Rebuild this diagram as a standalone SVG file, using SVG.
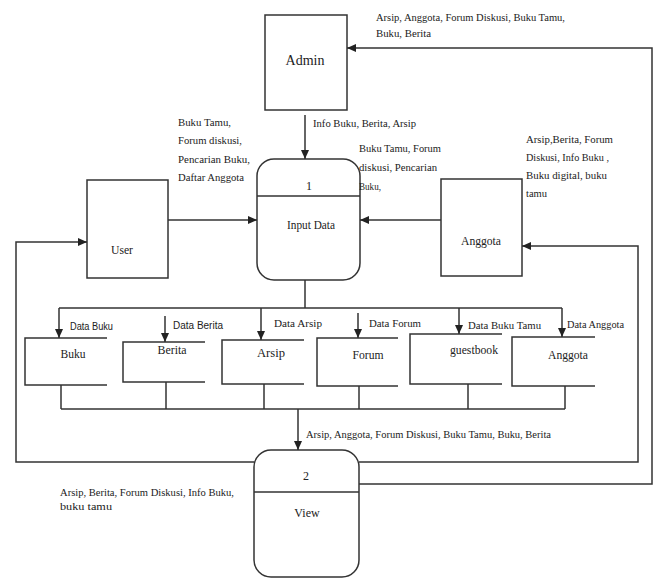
<svg xmlns="http://www.w3.org/2000/svg" width="660" height="579" viewBox="0 0 660 579">
<style>
.box{fill:#fff;stroke:#333;stroke-width:1.5}
.ln{fill:none;stroke:#333;stroke-width:1.5}
.arr{fill:none;stroke:#333;stroke-width:1.5;marker-end:url(#ah)}
text{font-family:"Liberation Serif","Times New Roman","DejaVu Serif",serif;fill:#222}
.lb{font-size:11px}
.nm{font-size:12px;text-anchor:middle}
.big{font-size:14px;text-anchor:middle}
.sn{font-family:"Liberation Sans",Arial,sans-serif;font-size:10px}
</style>
<defs>
<marker id="ah" markerWidth="9" markerHeight="8" refX="9" refY="4" orient="auto" markerUnits="userSpaceOnUse">
<path d="M0,0 L9,4 L0,8 Z" fill="#222"/>
</marker>
</defs>
<rect width="660" height="579" fill="#fff"/>
<g id="admin"><rect class="box" x="265" y="15" width="82" height="95"/><text class="big" x="305" y="65">Admin</text></g>
<g id="user"><rect class="box" x="87" y="180" width="81" height="98"/><text class="nm" x="122" y="254" textLength="22" lengthAdjust="spacingAndGlyphs">User</text></g>
<g id="anggota"><rect class="box" x="441" y="179" width="81" height="97"/><text class="nm" x="481" y="245" textLength="40" lengthAdjust="spacingAndGlyphs">Anggota</text></g>
<g id="proc1"><rect class="box" x="257" y="159" width="103" height="121" rx="17"/><line class="ln" x1="257" y1="196" x2="360" y2="196"/><text class="nm" x="309" y="190">1</text><text class="nm" x="311" y="229" textLength="48" lengthAdjust="spacingAndGlyphs">Input Data</text></g>
<g id="proc2"><rect class="box" x="254" y="450" width="105" height="127" rx="17"/><line class="ln" x1="254" y1="492" x2="359" y2="492"/><text class="nm" x="306" y="480">2</text><text class="nm" x="307" y="517">View</text></g>
<g id="ds-buku"><path class="ln" d="M107,338 H25 V385 H107"/><text class="nm" x="73" y="358" textLength="25" lengthAdjust="spacingAndGlyphs">Buku</text></g>
<g id="ds-berita"><path class="ln" d="M205,342 H123 V382 H205"/><text class="nm" x="172" y="354" textLength="29" lengthAdjust="spacingAndGlyphs">Berita</text></g>
<g id="ds-arsip"><path class="ln" d="M304,340 H222 V384 H304"/><text class="nm" x="271" y="357" textLength="28" lengthAdjust="spacingAndGlyphs">Arsip</text></g>
<g id="ds-forum"><path class="ln" d="M398,338 H317 V386 H398"/><text class="nm" x="368" y="359" textLength="31" lengthAdjust="spacingAndGlyphs">Forum</text></g>
<g id="ds-guestbook"><path class="ln" d="M502,334 H410 V384 H502"/><text class="nm" x="474" y="354" textLength="48" lengthAdjust="spacingAndGlyphs">guestbook</text></g>
<g id="ds-anggota"><path class="ln" d="M595,337 H512 V386 H595"/><text class="nm" x="568" y="359" textLength="40" lengthAdjust="spacingAndGlyphs">Anggota</text></g>
<g id="connectors">
<line class="arr" x1="305" y1="115" x2="305" y2="159"/>
<line class="arr" x1="168" y1="220" x2="257" y2="220"/>
<line class="arr" x1="441" y1="220" x2="360" y2="220"/>
<polyline class="arr" points="359,484 652,484 652,48 347,48"/>
<polyline class="arr" points="359,462 638,462 638,246 522,246"/>
<polyline class="arr" points="254,462 16,462 16,242 87,242"/>
<line class="ln" x1="305" y1="280" x2="305" y2="308"/>
<line class="ln" x1="59" y1="308" x2="562" y2="308"/>
<line class="arr" x1="59" y1="308" x2="59" y2="338"/>
<line class="arr" x1="165" y1="316" x2="165" y2="342"/>
<line class="arr" x1="261" y1="308" x2="261" y2="340"/>
<line class="arr" x1="358" y1="313" x2="358" y2="338"/>
<line class="arr" x1="459" y1="308" x2="459" y2="334"/>
<line class="arr" x1="562" y1="308" x2="562" y2="337"/>
<line class="ln" x1="61" y1="385" x2="61" y2="409"/>
<line class="ln" x1="166" y1="382" x2="166" y2="409"/>
<line class="ln" x1="264" y1="384" x2="264" y2="409"/>
<line class="ln" x1="359" y1="386" x2="359" y2="409"/>
<line class="ln" x1="468" y1="384" x2="468" y2="409"/>
<line class="ln" x1="565" y1="386" x2="565" y2="409"/>
<line class="ln" x1="61" y1="409" x2="565" y2="409"/>
<line class="arr" x1="298" y1="409" x2="298" y2="450"/>
</g>
<g id="labels">
<text class="lb" x="376" y="21" textLength="189" lengthAdjust="spacingAndGlyphs">Arsip, Anggota, Forum Diskusi, Buku Tamu,</text>
<text class="lb" x="376" y="37" textLength="55" lengthAdjust="spacingAndGlyphs">Buku, Berita</text>
<text class="lb" x="313" y="127" textLength="103" lengthAdjust="spacingAndGlyphs">Info Buku, Berita, Arsip</text>
<text class="lb" x="178" y="126" textLength="53" lengthAdjust="spacingAndGlyphs">Buku Tamu,</text>
<text class="lb" x="178" y="144" textLength="64" lengthAdjust="spacingAndGlyphs">Forum diskusi,</text>
<text class="lb" x="178" y="163" textLength="72" lengthAdjust="spacingAndGlyphs">Pencarian Buku,</text>
<text class="lb" x="178" y="181" textLength="66" lengthAdjust="spacingAndGlyphs">Daftar Anggota</text>
<text class="lb" x="359" y="152" textLength="82" lengthAdjust="spacingAndGlyphs">Buku Tamu, Forum</text>
<text class="lb" x="359" y="171" textLength="78" lengthAdjust="spacingAndGlyphs">diskusi, Pencarian</text>
<text class="lb" x="359" y="190" textLength="22" lengthAdjust="spacingAndGlyphs">Buku,</text>
<text class="lb" x="526" y="143" textLength="87" lengthAdjust="spacingAndGlyphs">Arsip,Berita, Forum</text>
<text class="lb" x="526" y="161" textLength="83" lengthAdjust="spacingAndGlyphs">Diskusi, Info Buku ,</text>
<text class="lb" x="526" y="179" textLength="81" lengthAdjust="spacingAndGlyphs">Buku digital, buku</text>
<text class="lb" x="526" y="197" textLength="21" lengthAdjust="spacingAndGlyphs">tamu</text>
<text class="sn" x="70" y="330" textLength="43" lengthAdjust="spacingAndGlyphs">Data Buku</text>
<text class="sn" x="173" y="329" textLength="50" lengthAdjust="spacingAndGlyphs">Data Berita</text>
<text class="lb" x="274" y="327" textLength="48" lengthAdjust="spacingAndGlyphs">Data Arsip</text>
<text class="lb" x="369" y="327" textLength="52" lengthAdjust="spacingAndGlyphs">Data Forum</text>
<text class="lb" x="468" y="329" textLength="73" lengthAdjust="spacingAndGlyphs">Data Buku Tamu</text>
<text class="lb" x="567" y="328" textLength="57" lengthAdjust="spacingAndGlyphs">Data Anggota</text>
<text class="lb" x="306" y="438" textLength="245" lengthAdjust="spacingAndGlyphs">Arsip, Anggota, Forum Diskusi, Buku Tamu, Buku, Berita</text>
<text class="lb" x="60" y="496" textLength="174" lengthAdjust="spacingAndGlyphs">Arsip, Berita, Forum Diskusi, Info Buku,</text>
<text class="lb" x="60" y="510" textLength="52" lengthAdjust="spacingAndGlyphs">buku tamu</text>
</g>
</svg>
